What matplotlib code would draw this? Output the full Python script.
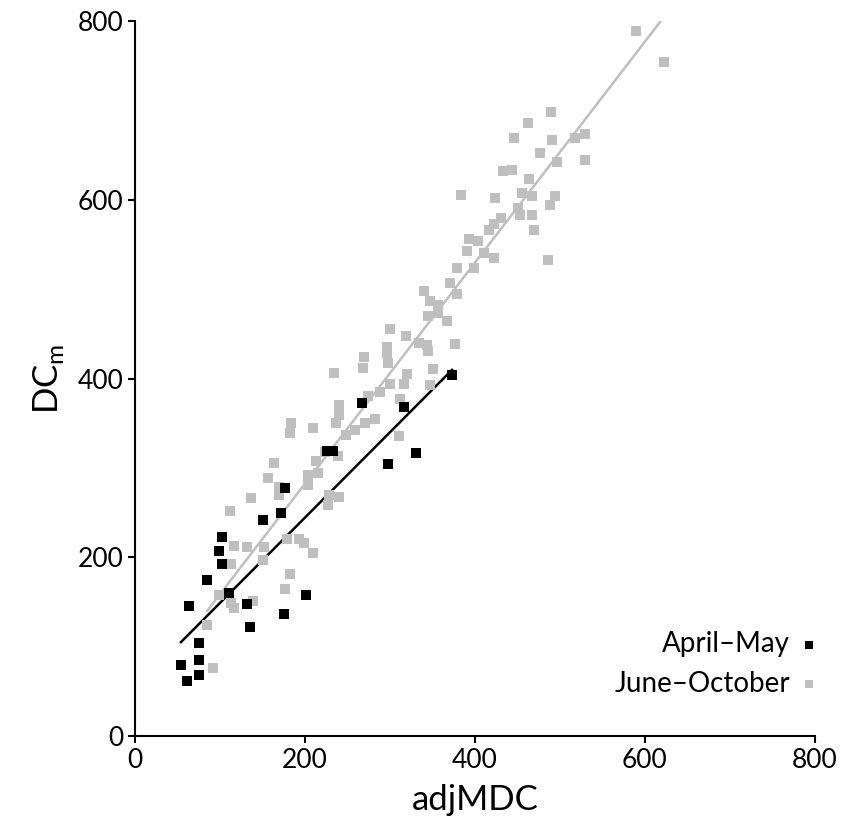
import numpy as np
import matplotlib
matplotlib.use('Agg')
import matplotlib.pyplot as plt

plt.rcParams['font.family'] = ['Lato', 'DejaVu Sans']
plt.rcParams['mathtext.fontset'] = 'custom'
plt.rcParams['mathtext.rm'] = 'Lato'

# April-May points (adjMDC, DCm)
am_x = [54, 61, 63, 75, 75, 75, 85, 99, 102, 102, 110, 132, 135, 150, 172,
        175, 177, 201, 226, 233, 267, 298, 316, 331, 373]
am_y = [80, 62, 146, 104, 85, 68, 175, 207, 192, 223, 160, 148, 122, 242, 250,
        137, 278, 158, 319, 319, 373, 304, 368, 317, 404]

# June-October points
jo_x = [622, 590, 489, 462, 446, 491, 518, 529, 476, 496, 529, 433, 444, 464,
        384, 424, 455, 467, 494, 488, 451, 453, 467, 431, 422, 417, 469, 393,
        391, 404, 411, 422, 486, 379, 399, 370, 379, 340, 347, 357, 345, 357,
        367, 300, 319, 297, 297, 298, 334, 344, 345, 377, 269, 268, 234, 350,
        320, 316, 300, 288, 274, 347, 312, 240, 240, 237, 282, 271, 259, 248,
        184, 182, 209, 310, 239, 224, 213, 164, 157, 204, 215, 204, 169, 169,
        137, 228, 240, 227, 112, 117, 132, 152, 179, 193, 199, 209, 113, 150,
        182, 177, 99, 113, 117, 139, 85, 92]
jo_y = [754, 789, 699, 686, 669, 667, 669, 674, 653, 643, 645, 632, 634, 624,
        606, 602, 608, 604, 604, 594, 591, 583, 583, 580, 573, 566, 566, 556,
        543, 554, 541, 535, 533, 524, 524, 507, 495, 498, 487, 482, 470, 473,
        465, 456, 448, 435, 429, 418, 440, 438, 431, 439, 424, 412, 406, 411,
        405, 394, 394, 385, 381, 393, 377, 371, 359, 350, 355, 350, 343, 337,
        350, 339, 345, 336, 313, 318, 308, 306, 289, 292, 294, 281, 279, 270,
        266, 270, 268, 259, 252, 213, 212, 212, 221, 221, 216, 205, 192, 197,
        181, 164, 158, 149, 143, 151, 124, 76]

black = '#000000'
grey = '#BFBFBF'

fig = plt.figure(figsize=(8.44, 8.34), dpi=100)
ax = fig.add_axes([0.16, 0.1175, 0.8056, 0.857])

# trend lines (least squares, drawn over the data range)
for xs, ys, c in [(am_x, am_y, black), (jo_x, jo_y, grey)]:
    k, b = np.polyfit(xs, ys, 1)
    xx = np.array([min(xs), max(xs)])
    ax.plot(xx, k * xx + b, color=c, lw=1.8, zorder=1)

ax.scatter(jo_x, jo_y, marker='s', s=62, color=grey, lw=0, label='June\u2013October', zorder=2)
ax.scatter(am_x, am_y, marker='s', s=62, color=black, lw=0, label='April\u2013May', zorder=3)

ax.set_xlim(0, 800)
ax.set_ylim(0, 800)
ax.set_xticks([0, 200, 400, 600, 800])
ax.set_yticks([0, 200, 400, 600, 800])
ax.spines['top'].set_visible(False)
ax.spines['right'].set_visible(False)
ax.spines['left'].set_linewidth(1.5)
ax.spines['bottom'].set_linewidth(1.5)
ax.tick_params(direction='out', length=5, width=1.5, labelsize=19)

ax.set_xlabel('adjMDC', fontsize=25, labelpad=8)
ax.set_ylabel('DC$_{\\mathrm{m}}$', fontsize=25, labelpad=8)

h, l = ax.get_legend_handles_labels()
ax.legend(h[::-1], l[::-1], loc='lower right', bbox_to_anchor=(1.045, 0.02),
          frameon=False, markerfirst=False, fontsize=20, handletextpad=0.3,
          handlelength=0.8, labelspacing=0.5, markerscale=0.75)

fig.savefig('out.png', dpi=100)
